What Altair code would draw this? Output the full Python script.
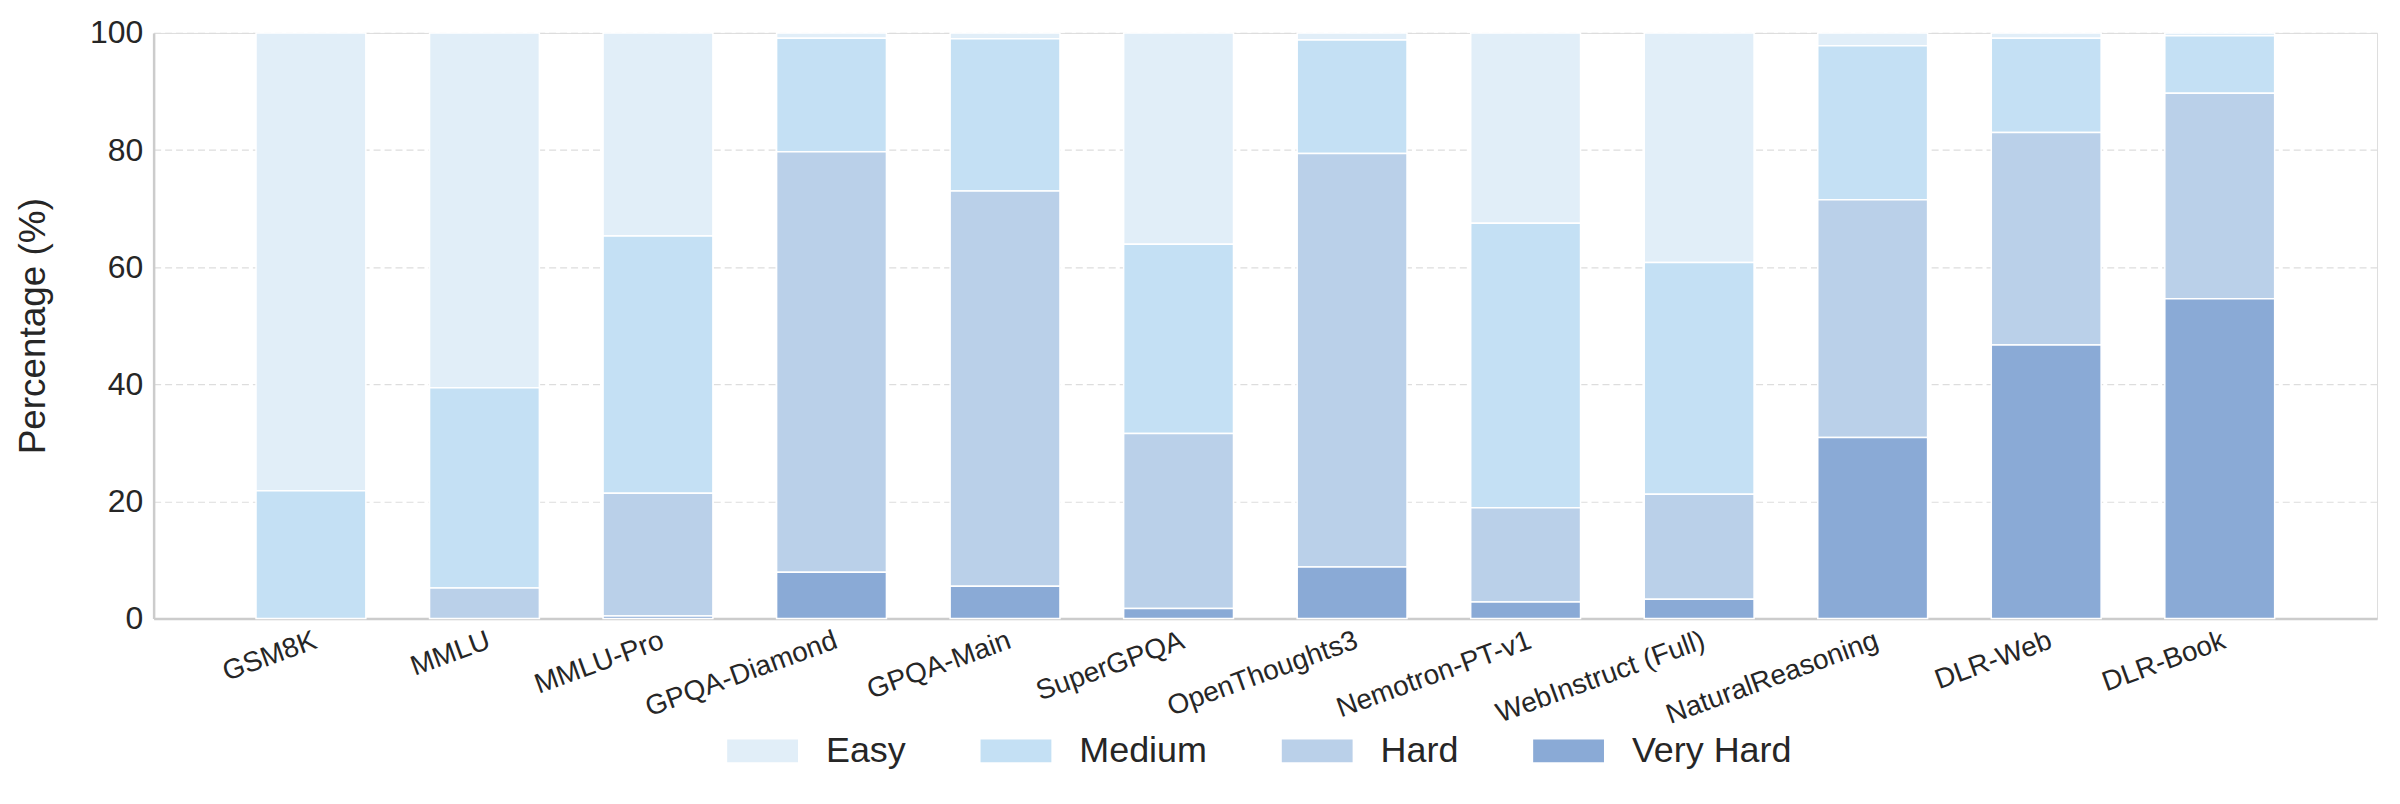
import altair as alt
import pandas as pd

datasets = ["GSM8K", "MMLU", "MMLU-Pro", "GPQA-Diamond", "GPQA-Main", "SuperGPQA",
            "OpenThoughts3", "Nemotron-PT-v1", "WebInstruct (Full)", "NaturalReasoning",
            "DLR-Web", "DLR-Book"]
levels = ["Easy", "Medium", "Hard", "Very Hard"]
colors = ["#e1eef8", "#c4e0f4", "#bad0e9", "#8aaad6"]

very_hard = [0.0, 0.0, 0.4, 7.9, 5.5, 1.7, 8.8, 2.8, 3.3, 30.9, 46.7, 54.6]
hard = [0.0, 5.2, 21.0, 71.8, 67.5, 29.9, 70.6, 16.1, 17.9, 40.6, 36.3, 35.1]
medium = [21.8, 34.2, 43.9, 19.4, 26.0, 32.3, 19.4, 48.6, 39.6, 26.3, 16.1, 9.8]
easy = [78.2, 60.6, 34.7, 0.9, 1.0, 36.1, 1.2, 32.5, 39.2, 2.2, 0.9, 0.5]

series = {"Easy": easy, "Medium": medium, "Hard": hard, "Very Hard": very_hard}
stack_rank = {"Very Hard": 0, "Hard": 1, "Medium": 2, "Easy": 3}

rows = []
for lvl in levels:
    for ds, v in zip(datasets, series[lvl]):
        rows.append({"dataset": ds, "level": lvl, "value": v, "rank": stack_rank[lvl]})
df = pd.DataFrame(rows)

FONT = "Liberation Sans"
TXT = "#262626"

chart = (
    alt.Chart(df)
    .transform_filter("datum.value > 0")
    .mark_bar(stroke="white", strokeWidth=1.5)
    .encode(
        x=alt.X(
            "dataset:N",
            sort=datasets,
            scale=alt.Scale(paddingInner=0.367, paddingOuter=0.59),
            axis=alt.Axis(
                title=None,
                labelAngle=-20,
                labelAlign="right",
                labelBaseline="top",
                labelFontSize=28,
                labelFont=FONT,
                labelColor=TXT,
                labelPadding=8,
                labelLimit=0,
                labelOverlap=False,
                ticks=False,
                grid=False,
                domainColor="#cccccc",
                domainWidth=2.5,
            ),
        ),
        y=alt.Y(
            "value:Q",
            stack="zero",
            scale=alt.Scale(domain=[0, 100], nice=False),
            axis=alt.Axis(
                title="Percentage (%)",
                values=[0, 20, 40, 60, 80, 100],
                labelFontSize=32,
                labelFont=FONT,
                labelColor=TXT,
                labelPadding=11,
                ticks=False,
                grid=True,
                gridDash=[7, 4],
                gridColor="#dddddd",
                gridWidth=1.2,
                domainColor="#cccccc",
                domainWidth=2.5,
                titleFontSize=37,
                titleFont=FONT,
                titleColor=TXT,
                titleFontWeight="normal",
                titleX=-109,
                titleY=293.5,
                titleAlign="center",
                titleBaseline="alphabetic",
                titleAngle=270,
            ),
        ),
        color=alt.Color(
            "level:N",
            sort=levels,
            scale=alt.Scale(domain=levels, range=colors),
            legend=alt.Legend(
                title=None,
                orient="none",
                legendX=575,
                legendY=684,
                direction="horizontal",
                symbolType="M-1,-0.324H1V0.324H-1Z",
                symbolSize=5041,
                symbolStrokeWidth=0,
                labelFontSize=36,
                labelFont=FONT,
                labelColor=TXT,
                labelOffset=28,
                labelLimit=0,
                columnPadding=74,
                padding=0,
            ),
        ),
        order=alt.Order("rank:Q", sort="ascending"),
    )
    .properties(
        width=2229,
        height=587,
        autosize=alt.AutoSizeParams(type="none"),
        padding={"left": 146, "top": 24, "right": 15, "bottom": 180},
    )
    .configure_view(stroke=None)
    .configure(background="white")
)

chart.save("out.html", embed_options={"renderer": "svg", "actions": False})
